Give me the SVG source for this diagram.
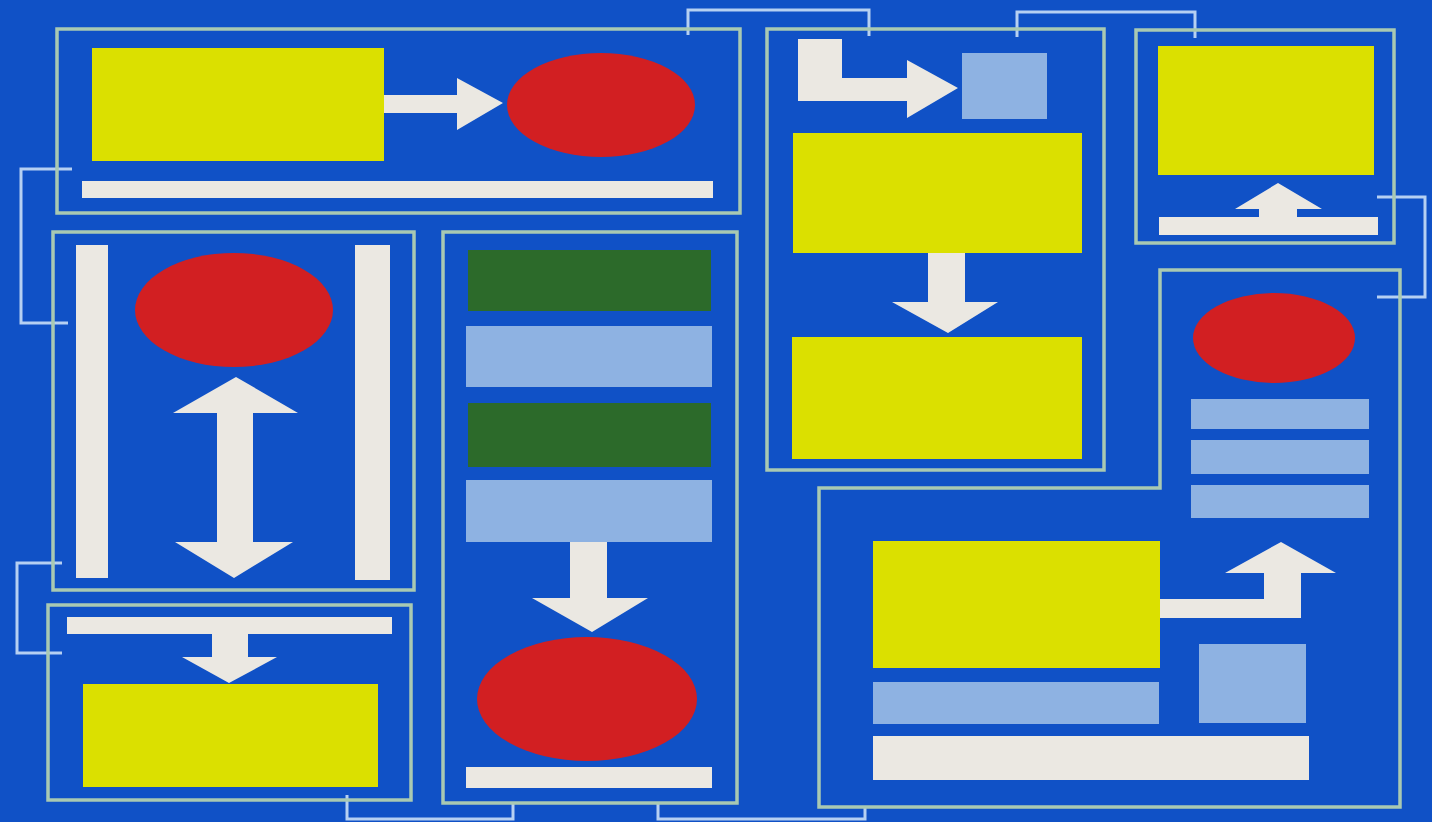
<svg xmlns="http://www.w3.org/2000/svg" width="1432" height="822" viewBox="0 0 1432 822">
<style>
.panel{fill:none;stroke:#a9c9b2;stroke-width:3.5}
.y{fill:#dbe000}
.r{fill:#d21f22}
.lb{fill:#8eb2e2}
.g{fill:#2c6a2a}
.w{fill:#ebe8e2}
.conn{fill:none;stroke:#b6d0f2;stroke-width:3}
</style>
<rect x="0" y="0" width="1432" height="822" fill="#1051c6"/>
<g id="connectors">
<polyline class="conn" points="72,169 21,169 21,323 68,323"/>
<polyline class="conn" points="62,563 17,563 17,653 62,653"/>
<polyline class="conn" points="347,795 347,819 513,819 513,803"/>
<polyline class="conn" points="658,803 658,819 865,819 865,807"/>
<polyline class="conn" points="688,35 688,10 869,10 869,36"/>
<polyline class="conn" points="1017,37 1017,12 1195,12 1195,38"/>
<polyline class="conn" points="1377,197 1425,197 1425,297 1377,297"/>
</g>
<g id="panelA">
<rect class="panel" x="57" y="29" width="683" height="184"/>
<rect class="y" x="92" y="48" width="292" height="113"/>
<polygon class="w" points="384,95 457,95 457,78 503,103 457,130 457,113 384,113"/>
<ellipse class="r" cx="601" cy="105" rx="94" ry="52"/>
<rect class="w" x="82" y="181" width="631" height="17"/>
</g>
<g id="panelB">
<rect class="panel" x="53" y="232" width="361" height="358"/>
<rect class="w" x="76" y="245" width="32" height="333"/>
<rect class="w" x="355" y="245" width="35" height="335"/>
<ellipse class="r" cx="234" cy="310" rx="99" ry="57"/>
<polygon class="w" points="236,377 298,413 253,413 253,542 293,542 234,578 175,542 217,542 217,413 173,413"/>
</g>
<g id="panelC">
<rect class="panel" x="48" y="605" width="363" height="195"/>
<rect class="w" x="67" y="617" width="325" height="17"/>
<polygon class="w" points="212,634 248,634 248,657 277,657 229,683 182,657 212,657"/>
<rect class="y" x="83" y="684" width="295" height="103"/>
</g>
<g id="panelD">
<rect class="panel" x="443" y="232" width="294" height="571"/>
<rect class="g" x="468" y="250" width="243" height="61"/>
<rect class="lb" x="466" y="326" width="246" height="61"/>
<rect class="g" x="468" y="403" width="243" height="64"/>
<rect class="lb" x="466" y="480" width="246" height="62"/>
<polygon class="w" points="570,542 607,542 607,598 648,598 592,632 532,598 570,598"/>
<ellipse class="r" cx="587" cy="699" rx="110" ry="62"/>
<rect class="w" x="466" y="767" width="246" height="21"/>
</g>
<g id="panelE">
<rect class="panel" x="767" y="29" width="337" height="441"/>
<polygon class="w" points="798,39 842,39 842,78 907,78 907,60 958,88 907,118 907,101 798,101"/>
<rect class="lb" x="962" y="53" width="85" height="66"/>
<rect class="y" x="793" y="133" width="289" height="120"/>
<polygon class="w" points="928,253 965,253 965,302 998,302 948,333 892,302 928,302"/>
<rect class="y" x="792" y="337" width="290" height="122"/>
</g>
<g id="panelG">
<rect class="panel" x="1136" y="30" width="258" height="213"/>
<rect class="y" x="1158" y="46" width="216" height="129"/>
<polygon class="w" points="1278,183 1322,209 1297,209 1297,217 1259,217 1259,209 1235,209"/>
<rect class="w" x="1159" y="217" width="219" height="18"/>
</g>
<g id="panelF">
<polygon class="panel" points="819,488 1160,488 1160,270 1400,270 1400,807 819,807"/>
<ellipse class="r" cx="1274" cy="338" rx="81" ry="45"/>
<rect class="lb" x="1191" y="399" width="178" height="30"/>
<rect class="lb" x="1191" y="440" width="178" height="34"/>
<rect class="lb" x="1191" y="485" width="178" height="33"/>
<polygon class="w" points="1281,542 1336,573 1301,573 1301,618 1160,618 1160,599 1264,599 1264,573 1225,573"/>
<rect class="y" x="873" y="541" width="287" height="127"/>
<rect class="lb" x="873" y="682" width="286" height="42"/>
<rect class="lb" x="1199" y="644" width="107" height="79"/>
<rect class="w" x="873" y="736" width="436" height="44"/>
</g>
</svg>
